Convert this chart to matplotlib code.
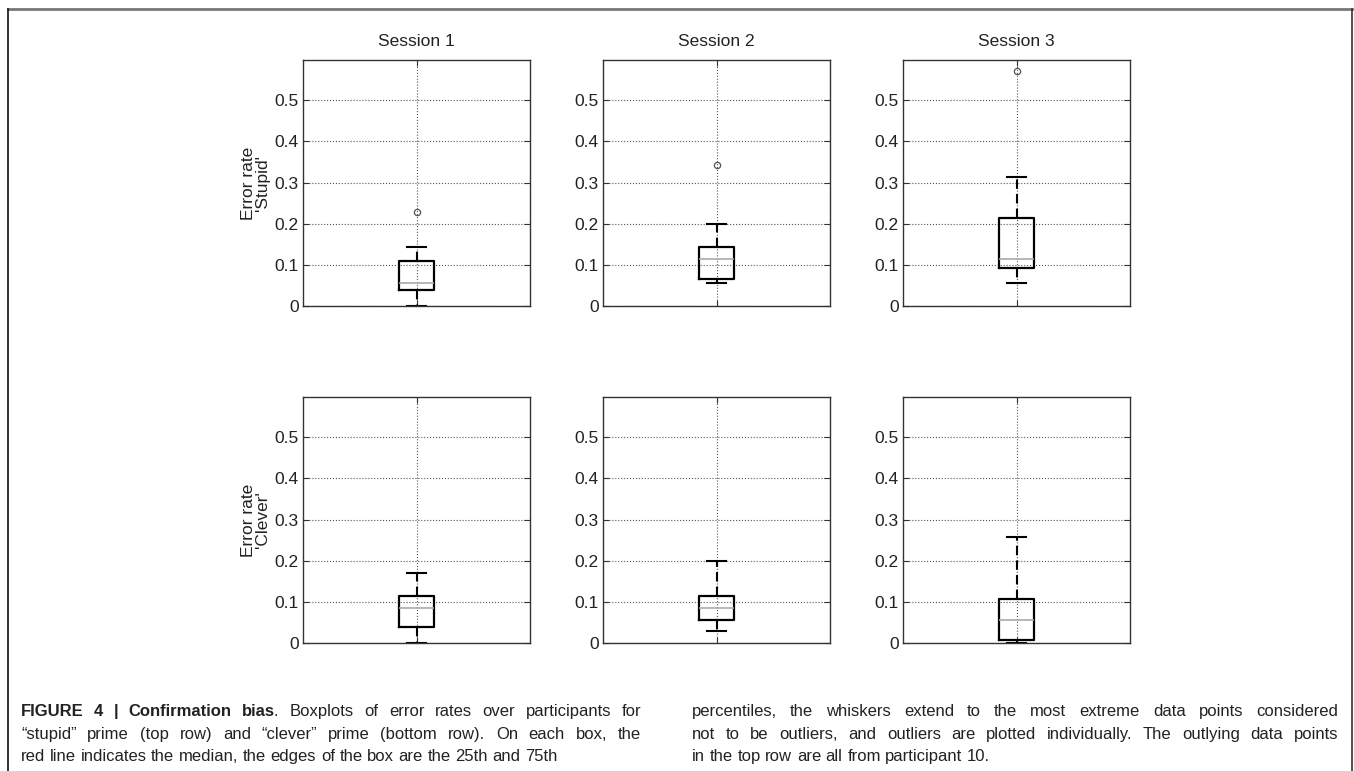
import matplotlib
matplotlib.use('Agg')
import matplotlib.pyplot as plt
from matplotlib.lines import Line2D

# box statistics (error rates)
sessions = ['Session 1', 'Session 2', 'Session 3']
row_labels = ["Error rate\n'Stupid'", "Error rate\n'Clever'"]

stupid_whislo = [0.0, 0.057, 0.057]
stupid_q1 = [0.038, 0.065, 0.093]
stupid_med = [0.057, 0.114, 0.114]
stupid_q3 = [0.110, 0.143, 0.214]
stupid_whishi = [0.143, 0.200, 0.314]
stupid_fliers = [[0.229], [0.343], [0.571]]

clever_whislo = [0.0, 0.029, 0.0]
clever_q1 = [0.038, 0.057, 0.007]
clever_med = [0.086, 0.086, 0.057]
clever_q3 = [0.114, 0.114, 0.107]
clever_whishi = [0.171, 0.200, 0.257]
clever_fliers = [[], [], []]

yticks = [0, 0.1, 0.2, 0.3, 0.4, 0.5]
ytick_labels = ['0', '0.1', '0.2', '0.3', '0.4', '0.5']

caption_left = [
    "FIGURE 4 | Confirmation bias. Boxplots of error rates over participants for",
    "\u201cstupid\u201d prime (top row) and \u201cclever\u201d prime (bottom row). On each box, the",
    "red line indicates the median, the edges of the box are the 25th and 75th",
]
caption_right = [
    "percentiles, the whiskers extend to the most extreme data points considered",
    "not to be outliers, and outliers are plotted individually. The outlying data points",
    "in the top row are all from participant 10.",
]
bold_part = "FIGURE 4 | Confirmation bias"

W, H = 1354, 771
fig = plt.figure(figsize=(W / 100, H / 100), dpi=100)
plt.rcParams['font.family'] = ['Liberation Sans', 'DejaVu Sans']


def fx(px):
    return px / W


def fy(py):
    return 1 - py / H


col_left = [303, 603, 903]
row_top = [60, 397]
aw, ah = 227, 246

rows = [
    (stupid_whislo, stupid_q1, stupid_med, stupid_q3, stupid_whishi, stupid_fliers),
    (clever_whislo, clever_q1, clever_med, clever_q3, clever_whishi, clever_fliers),
]

for r, (wlo, q1, med, q3, whi, fl) in enumerate(rows):
    for c in range(3):
        ax = fig.add_axes([fx(col_left[c]), fy(row_top[r] + ah), fx(aw), ah / H])
        stats = [dict(whislo=wlo[c], q1=q1[c], med=med[c], q3=q3[c],
                      whishi=whi[c], fliers=fl[c])]
        ax.bxp(stats, positions=[1], widths=0.154, capwidths=0.084,
               boxprops=dict(color='black', lw=1.6),
               whiskerprops=dict(color='black', lw=1.5, linestyle=(0, (4.5, 2.5))),
               capprops=dict(color='black', lw=1.5),
               medianprops=dict(color='#aaaaaa', lw=1.2),
               flierprops=dict(marker='o', markersize=4.5, markerfacecolor='none',
                               markeredgecolor='#555555', markeredgewidth=0.9))
        ax.set_xlim(0.5, 1.5)
        ax.set_ylim(0, 0.598)
        ax.set_yticks(yticks)
        ax.set_yticklabels(ytick_labels)
        ax.set_xticks([1])
        ax.set_xticklabels([])
        ax.set_axisbelow(True)
        ax.grid(True, linestyle=':', color='#555555', lw=0.8)
        ax.tick_params(direction='in', length=4, right=True, top=True,
                       labelsize=12.5, colors='#333333', labelcolor='#222222', pad=3)
        for s in ax.spines.values():
            s.set_color('#333333')
            s.set_linewidth(1.0)
        if r == 0:
            ax.set_title(sessions[c], fontsize=12.5, color='#222222', pad=10)
        if c == 0:
            ax.set_ylabel(row_labels[r], fontsize=12.5, color='#222222',
                          labelpad=3, linespacing=0.95)

# page frame
fig.add_artist(Line2D([fx(8), fx(1352)], [fy(9), fy(9)], color='#777777', lw=2))
fig.add_artist(Line2D([fx(8), fx(8)], [fy(9), 0], color='#111111', lw=1.2))
fig.add_artist(Line2D([fx(1352), fx(1352)], [fy(9), 0], color='#333333', lw=1.2))

# caption, justified word by word
renderer = fig.canvas.get_renderer()
cap_family = ['Liberation Sans']
cap_size = 12


def width_of(s, weight):
    t = fig.text(0, 0, s, fontsize=cap_size, family=cap_family, weight=weight)
    w = t.get_window_extent(renderer).width
    t.remove()
    return w


space_w = width_of('x x', 'normal') - width_of('xx', 'normal')


def put_line(text, x0, x1, y, justify, bold=''):
    words = text.split(' ')
    pieces = []
    nb = len(bold.split(' ')) if bold else 0
    for i, w in enumerate(words):
        if i < nb - 1:
            pieces.append([(w, 'bold')])
        elif i == nb - 1:
            tail = w[len(bold.split(' ')[-1]):]
            p = [(bold.split(' ')[-1], 'bold')]
            if tail:
                p.append((tail, 'normal'))
            pieces.append(p)
        else:
            pieces.append([(w, 'normal')])
    widths = [sum(width_of(s, wt) for s, wt in p) for p in pieces]
    if justify and len(pieces) > 1:
        gap = (x1 - x0 - sum(widths)) / (len(pieces) - 1)
    else:
        gap = space_w
    x = x0
    for p, wd in zip(pieces, widths):
        xx = x
        for k, (s, wt) in enumerate(p):
            if k > 0:
                xx -= 2
            fig.text(fx(xx), fy(y), s, fontsize=cap_size, family=cap_family,
                     weight=wt, color='#222222', va='baseline', ha='left')
            xx += width_of(s, wt)
        x += wd + gap


baselines = [716, 739, 761]
for i, line in enumerate(caption_left):
    put_line(line, 21, 641, baselines[i], i < 2, bold_part if i == 0 else '')
for i, line in enumerate(caption_right):
    put_line(line, 692, 1338, baselines[i], i < 2)

fig.savefig('out.png', dpi=100)
